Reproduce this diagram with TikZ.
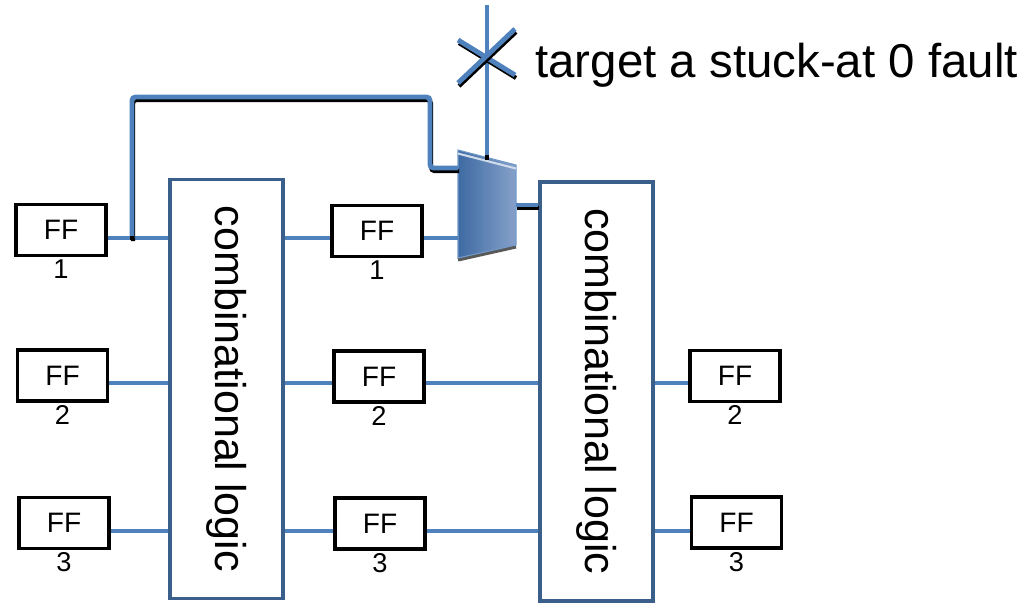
\documentclass[tikz,border=0pt]{standalone}
\usepackage{fontspec}
\usepackage{graphicx}
\setmainfont{Liberation Sans}
\usetikzlibrary{positioning}
\definecolor{wireblue}{RGB}{79,129,189}
\definecolor{boxblue}{RGB}{58,95,139}
\definecolor{muxdark}{RGB}{62,106,163}
\definecolor{muxlight}{RGB}{134,161,202}
\begin{document}
\begin{tikzpicture}[x=0.02cm,y=-0.02cm,
  ffbox/.style={draw,line width=2.2pt,minimum width=1.8cm,minimum height=1.02cm,inner sep=0pt,font=\fontsize{16}{18}\selectfont},
  ffnum/.style={inner sep=0pt,font=\fontsize{15.5}{17}\selectfont},
  combbox/.style={draw=boxblue,line width=2pt,minimum width=2.26cm,minimum height=8.38cm,inner sep=0pt,font=\fontsize{24.5}{28}\selectfont},
  wire/.style={draw=wireblue,line width=1.9pt},
  fatwire/.style={draw=wireblue,line width=2.8pt,rounded corners=2pt,
    preaction={draw=black,line width=2.4pt,transform canvas={shift={(1,3)}}}}
]
\useasboundingbox (0,0) rectangle (1033,605);
% rows of the flip-flops
\coordinate (row1) at (0,238);
\coordinate (row2) at (0,383);
\coordinate (row3) at (0,531);
% first stage
\node[ffbox] (ffa1) at (61,230) {FF};
\node[ffbox] (ffa2) at (62.5,375.5) {FF};
\node[ffbox] (ffa3) at (64,523) {FF};
\node[ffnum,below=1pt of ffa1] (na1) {1};
\node[ffnum,below=1pt of ffa2] (na2) {2};
\node[ffnum,below=1pt of ffa3] (na3) {3};
\node[combbox] (cl1) at (226.5,389) {\rotatebox{-90}{combinational logic}};
% second stage
\node[ffbox] (ffb1) at (377,231) {FF};
\node[ffbox] (ffb2) at (379,376.5) {FF};
\node[ffbox] (ffb3) at (380,523.5) {FF};
\node[ffnum,below=1pt of ffb1] (nb1) {1};
\node[ffnum,below=1pt of ffb2] (nb2) {2};
\node[ffnum,below=1pt of ffb3] (nb3) {3};
\node[combbox] (cl2) at (596.5,391.5) {\rotatebox{-90}{combinational logic}};
% third stage
\node[ffbox] (ffc2) at (735,376) {FF};
\node[ffbox] (ffc3) at (736.5,522.5) {FF};
\node[ffnum,below=1pt of ffc2] (nc2) {2};
\node[ffnum,below=1pt of ffc3] (nc3) {3};
% the mux
\coordinate (m1) at (458,150);
\coordinate (m2) at (516,165);
\coordinate (m3) at (516,245);
\coordinate (m4) at (458,258);
\coordinate (muxin0) at (458,168);
\coordinate (muxin1) at (458,238);
\coordinate (muxout) at (516,205);
\coordinate (muxsel) at (487,158);
\coordinate (jn) at (132,238);
\coordinate (seltop) at (487,5);
\draw[line width=2pt,gray!70!black] ([yshift=-1pt]m3) -- ([yshift=-1pt]m4);
\shade[left color=muxdark,right color=muxlight] (m1) -- (m2) -- (m3) -- (m4) -- cycle;
\draw[wireblue!80!white,line width=0.6pt] (m1) -- (m2) -- (m3) -- (m4) -- cycle;
\draw[white!60!muxlight,line width=1.2pt] ([yshift=-2pt]m1) -- ([yshift=-2pt]m2);
% wires
\draw[wire] (ffa1.east |- row1) -- (cl1.west |- row1);
\draw[wire] (ffa2.east |- row2) -- (cl1.west |- row2);
\draw[wire] (ffa3.east |- row3) -- (cl1.west |- row3);
\draw[wire] (cl1.east |- row1) -- (ffb1.west |- row1);
\draw[wire] (cl1.east |- row2) -- (ffb2.west |- row2);
\draw[wire] (cl1.east |- row3) -- (ffb3.west |- row3);
\draw[wire] (ffb1.east |- row1) -- (muxin1);
\draw[wire] (ffb2.east |- row2) -- (cl2.west |- row2);
\draw[wire] (ffb3.east |- row3) -- (cl2.west |- row3);
\draw[wire] (cl2.east |- row2) -- (ffc2.west |- row2);
\draw[wire] (cl2.east |- row3) -- (ffc3.west |- row3);
\draw[fatwire] (jn) -- (132,97) -- (430,97) -- (430,168) -- (muxin0);
\draw[fatwire] (muxout) -- (cl2.west |- muxout);
\draw[wire] (seltop) -- (muxsel);
\fill (jn) +(-2,-2) rectangle +(2,2);
\fill (muxsel) +(-2,-3) rectangle +(2,2);
% the fault
\draw[fatwire] (458,40) -- (515,75);
\draw[fatwire] (515,29) -- (458,83);
\node[anchor=base west,inner sep=0pt,font=\fontsize{27}{32}\selectfont] (fault) at (535,77) {target a stuck-at 0 fault};
\end{tikzpicture}
\end{document}
